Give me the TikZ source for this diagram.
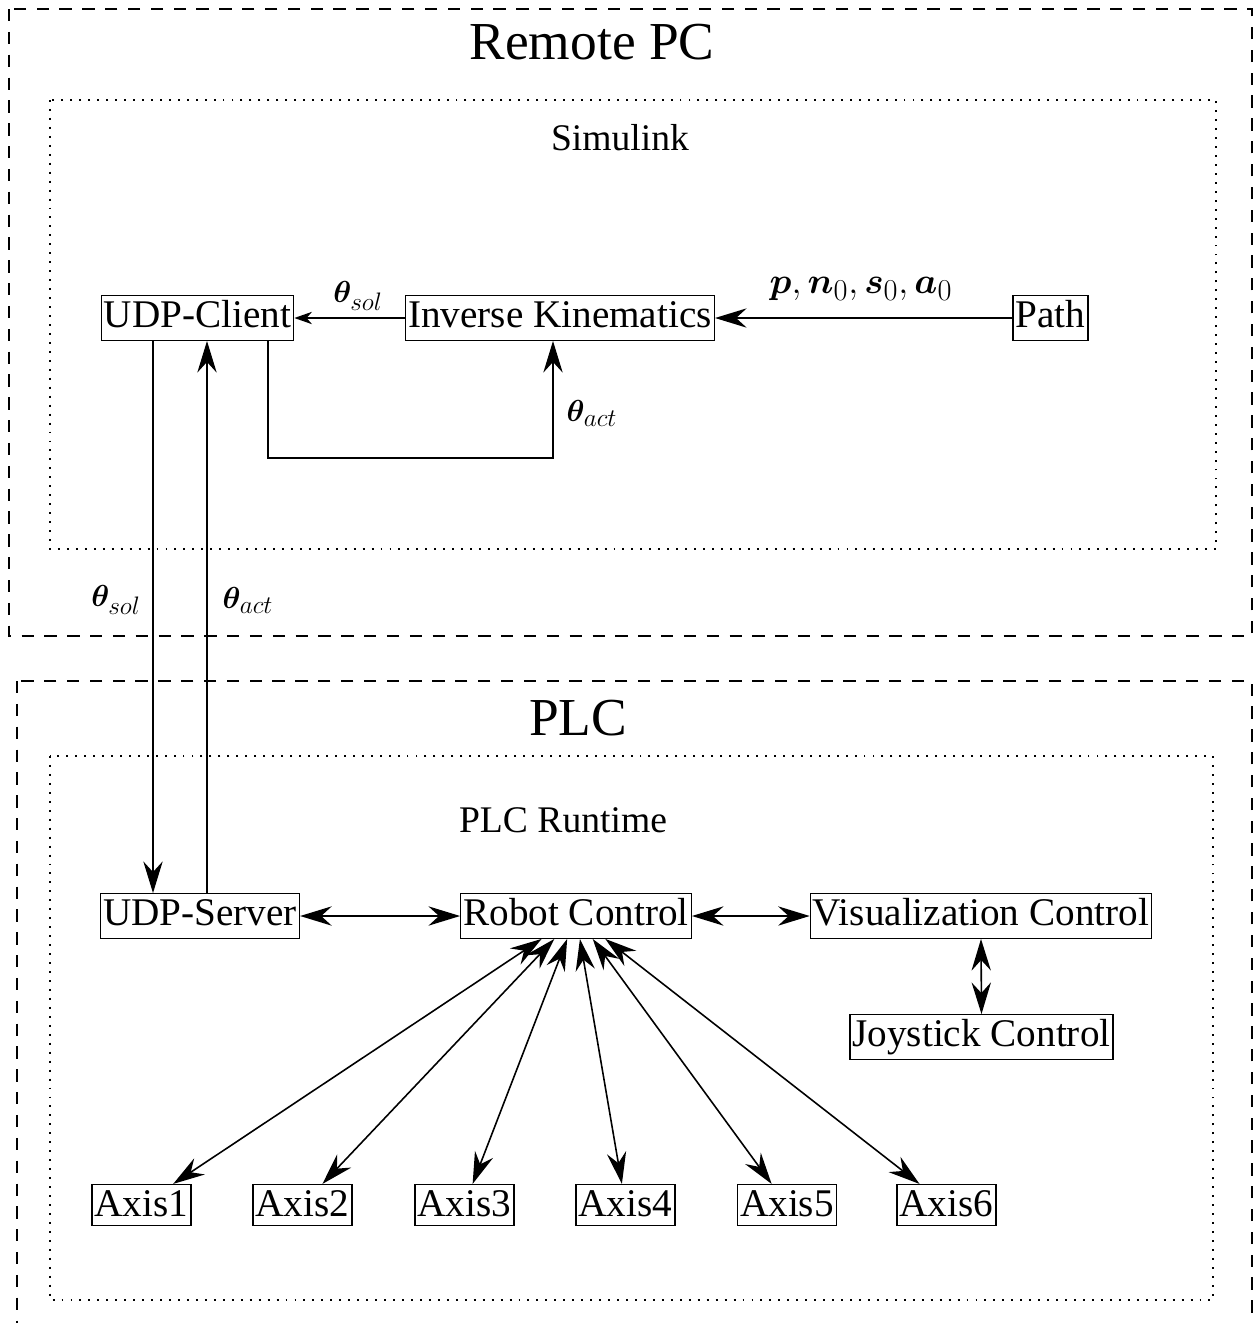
\documentclass[tikz,border=0pt]{standalone}
\usepackage[no-math]{fontspec}
\setmainfont{Liberation Serif}
\usepackage{bm}
\DeclareMathSizes{17}{17}{14}{10}
\DeclareMathSizes{20.5}{20.5}{16.5}{11}
\usetikzlibrary{arrows.meta}
\tikzset{
  blk/.style={draw, line width=0.7pt, inner xsep=1.5pt, inner ysep=2.8pt,
    text height=15.2pt, text depth=4.6pt, font=\fontsize{22.3}{26}\selectfont},
  axbox/.style={blk, text depth=2.5pt},
  title/.style={font=\fontsize{30.4}{36}\selectfont, inner sep=0pt},
  sub/.style={font=\fontsize{21.4}{25}\selectfont, inner sep=0pt},
  lab/.style={font=\fontsize{17}{20}\selectfont, inner sep=0pt},
  labbig/.style={font=\fontsize{20.5}{24}\selectfont, inner sep=0pt},
  outer/.style={line width=1.1pt, dash pattern=on 7pt off 6pt},
  inner/.style={line width=1.1pt, dash pattern=on 1.1pt off 4pt},
  con/.style={line width=0.9pt},
  bigtip/.tip={Stealth[length=18pt, width=11pt, inset=6pt]},
  smalltip/.tip={Stealth[length=10pt, width=7pt, inset=3pt]},
}
\begin{document}
\begin{tikzpicture}[x=0.02cm, y=-0.02cm]
\useasboundingbox (0,0) rectangle (1256,1323);
% containers
\draw[outer] (9,9) rectangle (1252,636);
\draw[inner] (50,100) rectangle (1216,549);
\draw[outer] (17,681) rectangle (1252,1350);
\draw[inner] (50,756) rectangle (1213,1300);
\node[title] (tremote) at (592,42) {Remote PC};
\node[sub] (tsim) at (620,138) {Simulink};
\node[title] (tplc) at (578,718) {PLC};
\node[sub] (tplcr) at (563,820) {PLC Runtime};
% nodes
\node[blk] (client) at (197.5,318) {UDP-Client};
\node[blk] (ik) at (560,318) {Inverse Kinematics};
\node[blk] (path) at (1050.5,318) {Path};
\node[blk] (server) at (200,916) {UDP-Server};
\node[blk] (rc) at (576,916) {Robot Control};
\node[blk] (viz) at (981,916) {Visualization Control};
\node[blk] (joy) at (981.5,1037) {Joystick Control};
\node[axbox] (a1) at (141.5,1205) {Axis1};
\node[axbox] (a2) at (302.5,1205) {Axis2};
\node[axbox] (a3) at (464.5,1205) {Axis3};
\node[axbox] (a4) at (625.5,1205) {Axis4};
\node[axbox] (a5) at (787,1205) {Axis5};
\node[axbox] (a6) at (946.5,1205) {Axis6};
% helper coordinates
\coordinate (loopl) at (268,458);
\coordinate (loopr) at (553,458);
\coordinate (cdown) at (153,0);
\coordinate (cup) at (207,0);
% connectors
\draw[con, -smalltip] (ik.west) -- (client.east);
\draw[con, -bigtip] (path.west) -- (ik.east);
\draw[con, -bigtip] (client.south -| loopl) -- (loopl) -- (loopr) -- (ik.south -| loopr);
\draw[con, -bigtip] (client.south -| cdown) -- (server.north -| cdown);
\draw[con, -bigtip] (server.north -| cup) -- (client.south -| cup);
\draw[con, bigtip-bigtip] (server.east) -- (rc.west);
\draw[con, bigtip-bigtip] (rc.east) -- (viz.west);
\draw[con, bigtip-bigtip] (viz.south) -- (joy.north);
\foreach \a in {a1,a2,a3,a4,a5,a6}
  \draw[con, bigtip-bigtip] (rc) -- (\a);
% labels
\node[lab] (lsol1) at (358,296) {$\bm{\theta}_{sol}$};
\node[labbig] (lpath) at (861,289) {$\bm{p}, \bm{n}_0, \bm{s}_0, \bm{a}_0$};
\node[lab] (lact1) at (592,413) {$\bm{\theta}_{act}$};
\node[lab] (lsol2) at (116,600) {$\bm{\theta}_{sol}$};
\node[lab] (lact2) at (248,600) {$\bm{\theta}_{act}$};
\end{tikzpicture}
\end{document}
